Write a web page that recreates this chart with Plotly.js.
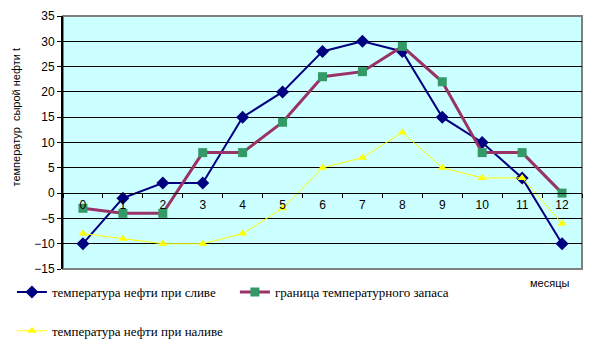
<!DOCTYPE html>
<html><head><meta charset="utf-8">
<script src="https://cdn.plot.ly/plotly-3.0.1.min.js"></script>
<style>body{margin:0;background:#fff}#c{width:596px;height:355px}</style>
</head><body><div id="c"></div>
<script>
const months = ["0","1","2","3","4","5","6","7","8","9","10","11","12"];
const drainTemp = [-10,-1,2,2,15,20,28,30,28,15,10,3,-10];
const reserveLimit = [-3,-4,-4,8,8,14,23,24,29,22,8,8,0];
const fillTemp = [-8,-9,-10,-10,-8,-3,5,7,12,5,3,3,-6];
const names = ["температура нефти при сливе","граница температурного запаса","температура нефти при наливе"];
const yTitle = "температур  сырой нефти t";
const xTitle = "месяцы";

const traces = [
 {x: months, y: drainTemp, name: names[0], type:'scatter', mode:'lines+markers',
  line:{color:'#000080', width:2}, marker:{symbol:'diamond', size:10, color:'#000080'}, legend:'legend'},
 {x: months, y: reserveLimit, name: names[1], type:'scatter', mode:'lines+markers',
  line:{color:'#993366', width:3}, marker:{symbol:'square', size:9, color:'#339966'}, legend:'legend'},
 {x: months, y: fillTemp, name: names[2], type:'scatter', mode:'lines+markers',
  line:{color:'#ffff00', width:1}, marker:{symbol:'triangle-up', size:8, color:'#ffff00'}, legend:'legend2'}
];
const legFont = {family:'Liberation Serif', size:13, color:'#000'};
const layout = {
 width:596, height:355,
 margin:{l:63, r:14, t:16, b:86},
 paper_bgcolor:'#fff', plot_bgcolor:'#ccffff',
 font:{family:'Liberation Sans, Arial, sans-serif', size:11, color:'#000'},
 xaxis:{type:'category', anchor:'free', position:0.3, range:[-0.5,12.5],
   showline:true, linecolor:'#000', linewidth:1, ticks:'outside', ticklen:4, tickcolor:'#000',
   tickson:'boundaries', showgrid:false, zeroline:false, tickfont:{size:12}},
 yaxis:{range:[-15,35], dtick:5, showgrid:true, gridcolor:'#000', gridwidth:1,
   showline:true, linecolor:'#000', linewidth:2, ticks:'outside', ticklen:4, tickcolor:'#000',
   zeroline:false, tickfont:{size:12}},
 shapes:[{type:'rect', xref:'paper', yref:'paper', x0:0, x1:1, y0:0, y1:1,
   line:{color:'#808080', width:2}, layer:'below'}],
 showlegend:true,
 legend:{orientation:'h', xref:'container', x:0.02, yref:'container', y:0.177, yanchor:'middle',
   font:legFont, entrywidth:178, entrywidthmode:'pixels', bgcolor:'rgba(0,0,0,0)', itemwidth:30},
 legend2:{orientation:'h', xref:'container', x:0.02, yref:'container', y:0.068, yanchor:'middle',
   font:legFont, bgcolor:'rgba(0,0,0,0)', itemwidth:30},
 annotations:[
  {text:yTitle, xref:'paper', yref:'paper', x:-0.09, y:0.60, textangle:-90, showarrow:false,
   xanchor:'center', yanchor:'middle', font:{size:11}},
  {text:xTitle, xref:'paper', yref:'paper', x:0.938, y:-0.055, showarrow:false,
   xanchor:'center', yanchor:'middle', font:{size:11}}
 ]
};
Plotly.newPlot('c', traces, layout, {displayModeBar:false, staticPlot:true});
</script></body></html>
